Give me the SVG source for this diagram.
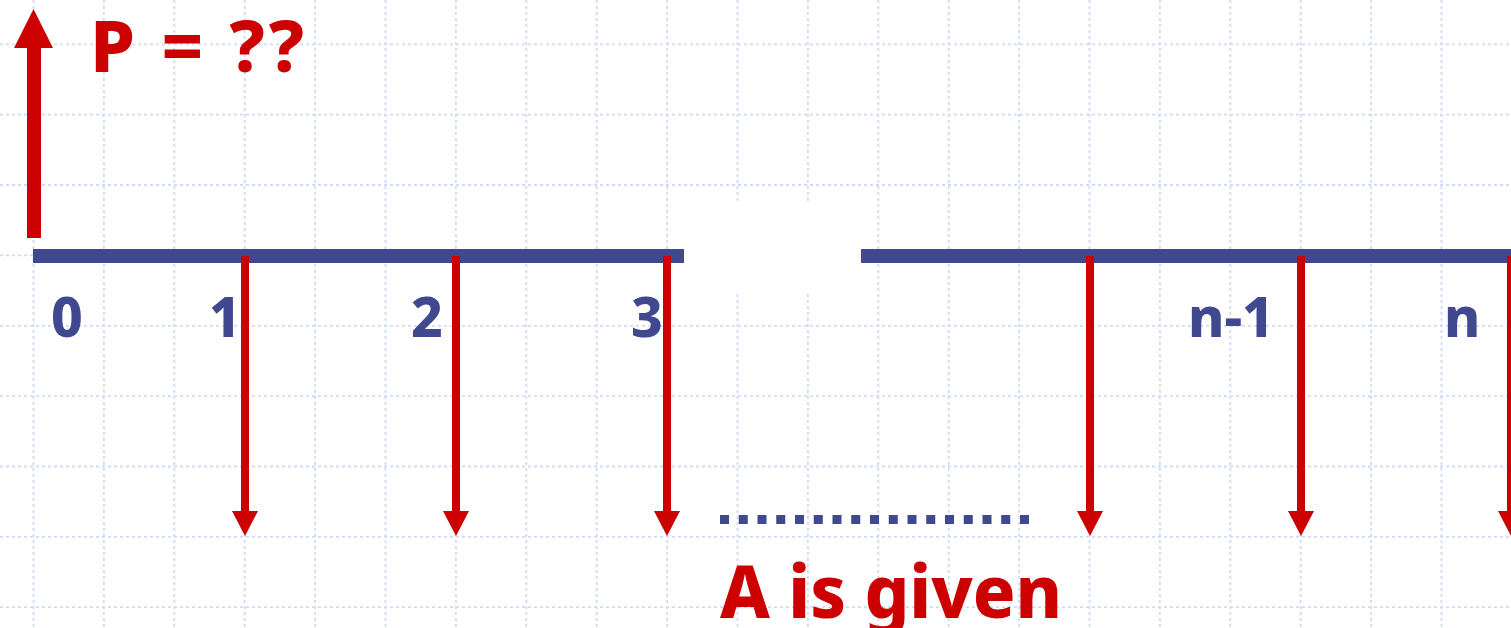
<svg xmlns="http://www.w3.org/2000/svg" width="1511" height="628" viewBox="0 0 1511 628">
<style>
.grid line{stroke:#cfdbf6;stroke-width:1.8;stroke-dasharray:3 3}
.red{fill:#cc0000}
.blue{fill:#404890}
.num{font-family:"Noto Sans","DejaVu Sans",sans-serif;font-weight:800;font-size:55px;fill:#404890;text-anchor:middle}
.lbl{font-family:"Noto Sans","DejaVu Sans",sans-serif;font-weight:800;fill:#cc0000}
</style>
<defs>
<g id="down">
<rect x="-4" y="256" width="8" height="256"/>
<polygon points="-13,511 13,511 0,536"/>
</g>
</defs>
<rect width="1511" height="628" fill="#ffffff"/>
<g id="grid" class="grid">
<line x1="33.5" y1="0" x2="33.5" y2="628"/>
<line x1="103.9" y1="0" x2="103.9" y2="628"/>
<line x1="174.3" y1="0" x2="174.3" y2="628"/>
<line x1="244.7" y1="0" x2="244.7" y2="628"/>
<line x1="315.1" y1="0" x2="315.1" y2="628"/>
<line x1="385.5" y1="0" x2="385.5" y2="628"/>
<line x1="455.9" y1="0" x2="455.9" y2="628"/>
<line x1="526.3" y1="0" x2="526.3" y2="628"/>
<line x1="596.7" y1="0" x2="596.7" y2="628"/>
<line x1="667.1" y1="0" x2="667.1" y2="628"/>
<line x1="737.5" y1="0" x2="737.5" y2="628"/>
<line x1="807.9" y1="0" x2="807.9" y2="628"/>
<line x1="878.3" y1="0" x2="878.3" y2="628"/>
<line x1="948.7" y1="0" x2="948.7" y2="628"/>
<line x1="1019.1" y1="0" x2="1019.1" y2="628"/>
<line x1="1089.5" y1="0" x2="1089.5" y2="628"/>
<line x1="1159.9" y1="0" x2="1159.9" y2="628"/>
<line x1="1230.3" y1="0" x2="1230.3" y2="628"/>
<line x1="1300.7" y1="0" x2="1300.7" y2="628"/>
<line x1="1371.1" y1="0" x2="1371.1" y2="628"/>
<line x1="1441.5" y1="0" x2="1441.5" y2="628"/>
<line x1="0" y1="44.3" x2="1511" y2="44.3"/>
<line x1="0" y1="114.7" x2="1511" y2="114.7"/>
<line x1="0" y1="185" x2="1511" y2="185"/>
<line x1="0" y1="255.4" x2="1511" y2="255.4"/>
<line x1="0" y1="325.8" x2="1511" y2="325.8"/>
<line x1="0" y1="396.1" x2="1511" y2="396.1"/>
<line x1="0" y1="466.5" x2="1511" y2="466.5"/>
<line x1="0" y1="536.9" x2="1511" y2="536.9"/>
<line x1="0" y1="607.2" x2="1511" y2="607.2"/>
</g>
<rect x="684" y="202" width="178" height="89" fill="#ffffff"/>
<g id="axis" class="blue">
<rect x="33" y="249" width="651" height="14"/>
<rect x="861" y="249" width="650" height="14"/>
</g>
<g id="labels">
<text class="num" x="67" y="337">0</text>
<text class="num" x="225" y="337">1</text>
<text class="num" x="427" y="337">2</text>
<text class="num" x="647" y="337">3</text>
<text class="num" x="1231" y="337" textLength="86" lengthAdjust="spacingAndGlyphs">n-1</text>
<text class="num" x="1462" y="337">n</text>
</g>
<g id="connectors" class="red">
<g id="P-arrow">
<rect x="27" y="47" width="14" height="191"/>
<polygon points="14,48 53,48 33.5,9"/>
</g>
<use href="#down" x="245"/>
<use href="#down" x="456"/>
<use href="#down" x="667"/>
<use href="#down" x="1090"/>
<use href="#down" x="1301"/>
<use href="#down" x="1511"/>
</g>
<g id="dots" class="blue">
<rect x="720" y="515" width="9" height="9"/>
<rect x="738.75" y="515" width="9" height="9"/>
<rect x="757.5" y="515" width="9" height="9"/>
<rect x="776.25" y="515" width="9" height="9"/>
<rect x="795" y="515" width="9" height="9"/>
<rect x="813.75" y="515" width="9" height="9"/>
<rect x="832.5" y="515" width="9" height="9"/>
<rect x="851.25" y="515" width="9" height="9"/>
<rect x="870" y="515" width="9" height="9"/>
<rect x="888.75" y="515" width="9" height="9"/>
<rect x="907.5" y="515" width="9" height="9"/>
<rect x="926.25" y="515" width="9" height="9"/>
<rect x="945" y="515" width="9" height="9"/>
<rect x="963.75" y="515" width="9" height="9"/>
<rect x="982.5" y="515" width="9" height="9"/>
<rect x="1001.25" y="515" width="9" height="9"/>
<rect x="1020" y="515" width="9" height="9"/>
</g>
<g id="P-label">
<text class="lbl" x="90" y="72" font-size="72" textLength="214" lengthAdjust="spacing">P = ??</text>
</g>
<g id="A-label">
<text class="lbl" x="720" y="618" font-size="74" textLength="342" lengthAdjust="spacingAndGlyphs">A is given</text>
</g>
</svg>
